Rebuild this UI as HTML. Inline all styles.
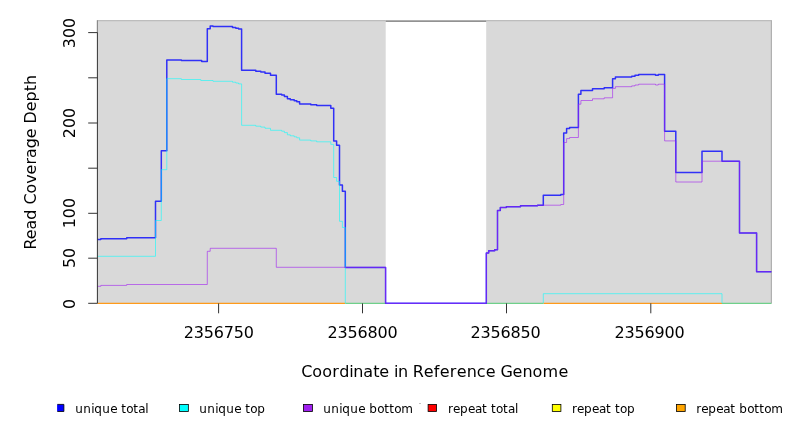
<!DOCTYPE html>
<html><head><meta charset="utf-8"><title>Read Coverage Depth</title>
<style>html,body{margin:0;padding:0;background:#fff;overflow:hidden}svg{display:block}text{font-family:"DejaVu Sans","Liberation Sans",sans-serif;fill:#000}</style>
</head><body>
<svg width="792" height="432" viewBox="0 0 792 432">
<rect x="0" y="0" width="792" height="432" fill="#ffffff"/>
<g id="panel">
<rect x="97.2" y="20.3" width="288.5" height="283" fill="#d9d9d9"/>
<rect x="486.2" y="20.3" width="285.2" height="283" fill="#d9d9d9"/>
<path d="M97.2 20.6 H385.7 M486.2 20.6 H771.6" stroke="#bdbdbd" stroke-width="1.2" fill="none"/>
<path d="M385.7 20.5 H486.2" stroke="#c6c6c6" stroke-width="1" fill="none"/>
<path d="M385.7 21.2 H486.2" stroke="#6e6e6e" stroke-width="1.1" fill="none"/>
<path d="M771.4 20.3 V303.6" stroke="#b0b0b0" stroke-width="1.2" fill="none"/>
<path d="M97.4 20.3 V33" stroke="#8a8a8a" stroke-width="1.2" fill="none"/>
</g>
<g id="baseline" fill="none" stroke-width="1.2">
<path d="M97.5 303.3 H345.3 M543.3 303.3 H722" stroke="#ff9a1a"/>
<path d="M345.3 303.3 H385.6 M486.3 303.3 H543.3 M722 303.3 H771.4" stroke="#6fd08a"/>
</g>
<g id="lines" fill="none" stroke-linejoin="miter">
<path d="M97.50 239.50 H100.80 V238.70 H126.70 V237.80 H155.50 V201.30 H161.30 V150.80 H166.80 V59.90 H181.40 V60.60 H201.70 V61.40 H207.30 V28.70 H210.20 V26.00 H213.00 V26.60 H232.50 V27.40 H235.80 V28.20 H238.60 V29.10 H241.60 V70.30 H255.80 V71.20 H260.80 V72.10 H265.00 V73.30 H270.50 V75.20 H276.30 V94.20 H281.70 V95.10 H284.40 V96.40 H287.40 V98.70 H290.30 V99.70 H294.20 V100.70 H296.80 V101.70 H299.60 V104.00 H310.80 V104.80 H316.70 V105.60 H330.80 V108.30 H333.70 V141.00 H336.60 V145.20 H339.50 V185.00 H342.40 V191.30 H345.30 V267.40 H385.60 V303.30 H486.30 V253.00 H488.70 V250.80 H494.70 V249.70 H497.50 V210.50 H500.30 V207.50 H506.30 V206.70 H520.50 V205.80 H537.50 V205.20 H543.30 V195.30 H560.80 V194.60 H563.70 V133.00 H566.60 V128.50 H569.60 V127.50 H578.40 V94.20 H580.90 V90.50 H592.50 V88.80 H604.20 V87.80 H612.60 V78.70 H615.40 V77.00 H631.70 V76.20 H635.00 V75.30 H638.70 V74.50 H655.50 V75.30 H658.30 V74.50 H664.60 V131.20 H675.80 V172.50 H702.00 V151.20 H722.00 V161.20 H739.50 V232.90 H756.60 V271.70 H771.40" stroke="#0000ff" stroke-opacity="0.78" stroke-width="1.5" stroke-linejoin="round"/>
<path d="M97.50 256.30 H155.50 V220.50 H161.30 V169.70 H166.80 V78.70 H181.40 V79.50 H200.80 V80.50 H213.00 V81.30 H232.50 V82.20 H235.80 V83.00 H238.60 V83.90 H241.60 V125.30 H255.80 V126.20 H260.80 V127.10 H265.00 V128.30 H270.50 V130.30 H281.70 V131.20 H284.40 V132.60 H287.40 V134.80 H290.30 V135.80 H294.20 V136.80 H296.80 V137.80 H299.60 V140.10 H310.80 V140.90 H316.70 V141.80 H330.80 V144.40 H333.70 V177.50 H336.60 V181.30 H339.50 V221.30 H342.40 V227.50 H345.30 V303.30 M543.30 303.30 H543.30 V293.70 H722.00 V303.30" stroke="#00ffff" stroke-opacity="0.56" stroke-width="1"/>
<path d="M97.50 286.30 H100.80 V285.40 H126.70 V284.50 H207.30 V251.30 H210.20 V248.30 H276.30 V267.30 H385.60 V303.30 H486.30 V253.00 H488.70 V250.80 H494.70 V249.70 H497.50 V210.50 H500.30 V207.50 H506.30 V206.70 H520.50 V205.80 H537.50 V205.20 H560.80 V204.50 H563.70 V142.50 H566.60 V138.60 H569.60 V137.50 H578.40 V104.20 H580.90 V100.50 H592.50 V98.80 H604.20 V97.80 H612.60 V88.40 H615.40 V86.70 H631.70 V85.90 H635.00 V85.00 H638.70 V84.20 H655.50 V85.00 H658.30 V84.20 H664.60 V140.90 H675.80 V182.00 H702.00 V161.20 H739.50 V232.90 H756.60 V271.70 H771.40" stroke="#a020f0" stroke-opacity="0.6" stroke-width="1"/>
</g>
<g id="axes" fill="none" stroke="#333333" stroke-width="1">
<path d="M97.4 32.6 V303.4"/>
<path d="M88.2 32.6 H97.4"/>
<path d="M88.2 77.8 H97.4"/>
<path d="M88.2 123.0 H97.4"/>
<path d="M88.2 168.2 H97.4"/>
<path d="M88.2 213.3 H97.4"/>
<path d="M88.2 258.2 H97.4"/>
<path d="M88.2 303.3 H97.4"/>
<path d="M218.6 303.4 V313.3"/>
<path d="M362.5 303.4 V313.3"/>
<path d="M506.5 303.4 V313.3"/>
<path d="M650.8 303.4 V313.3"/>
</g>
<g id="ticklabels">
<text x="183.80 193.80 203.80 213.80 223.80 233.80 243.80" y="337.60" font-size="16">2356750</text>
<text x="327.50 337.50 347.50 357.50 367.50 377.50 387.50" y="337.60" font-size="16">2356800</text>
<text x="470.50 480.50 490.50 500.50 510.50 520.50 530.50" y="337.60" font-size="16">2356850</text>
<text x="614.50 624.50 634.50 644.50 654.50 664.50 674.50" y="337.60" font-size="16">2356900</text>
<text transform="translate(75.20 33.05) rotate(-90)" text-anchor="middle" font-size="15.9">300</text>
<text transform="translate(75.20 123.05) rotate(-90)" text-anchor="middle" font-size="15.9">200</text>
<text transform="translate(75.20 213.10) rotate(-90)" text-anchor="middle" font-size="15.9">100</text>
<text transform="translate(75.20 257.90) rotate(-90)" text-anchor="middle" font-size="15.9">50</text>
<text transform="translate(75.20 303.90) rotate(-90)" text-anchor="middle" font-size="15.9">0</text>
</g>
<g id="titles">
<text x="301.35 312.35 322.35 332.35 339.35 349.35 353.35 363.35 373.35 379.35 389.35 394.05 398.05 408.05 412.75 423.75 433.75 439.75 449.75 456.75 466.75 476.75 485.75 495.75 500.45 512.45 522.45 532.45 542.45 558.45" y="377.00" font-size="16">Coordinate in Reference Genome</text>
<text transform="translate(35.90 162.30) rotate(-90)" text-anchor="middle" font-size="15.9">Read Coverage Depth</text>
</g>
<g id="legend">
<rect x="57.10" y="404.4" width="6.80" height="7.1" fill="#0000ff"/>
<path d="M57.40 404.4 H63.90 V411.5 H57.40" fill="none" stroke="#000" stroke-width="0.8"/>
<text x="75.25 83.25 91.25 94.25 102.25 110.25 117.25 121.25 126.25 133.25 138.25 145.25" y="412.70" font-size="12">unique total</text>
<rect x="179.40" y="404.4" width="8.95" height="7.1" fill="#00ffff" stroke="#000" stroke-width="0.8"/>
<text x="199.30 207.30 215.30 218.30 226.30 234.30 241.30 245.30 250.30 257.30" y="412.70" font-size="12">unique top</text>
<rect x="303.50" y="404.4" width="8.90" height="7.1" fill="#a020f0" stroke="#000" stroke-width="0.8"/>
<text x="323.30 331.30 339.30 342.30 350.30 358.30 365.30 369.30 377.30 384.30 389.30 394.30 401.30" y="412.70" font-size="12">unique bottom</text>
<rect x="428.10" y="404.4" width="8.40" height="7.1" fill="#ff0000" stroke="#000" stroke-width="0.8"/>
<text x="448.10 453.10 460.10 468.10 475.10 482.10 487.10 491.10 496.10 503.10 508.10 515.10" y="412.70" font-size="12">repeat total</text>
<rect x="552.30" y="404.4" width="8.60" height="7.1" fill="#ffff00" stroke="#000" stroke-width="0.8"/>
<text x="572.00 577.00 584.00 592.00 599.00 606.00 611.00 615.00 620.00 627.00" y="412.70" font-size="12">repeat top</text>
<rect x="676.50" y="404.4" width="8.70" height="7.1" fill="#ffa500" stroke="#000" stroke-width="0.8"/>
<text x="696.30 701.30 708.30 716.30 723.30 730.30 735.30 739.30 747.30 754.30 759.30 764.30 771.30" y="412.70" font-size="12">repeat bottom</text>
</g>
<rect x="419" y="403.1" width="2" height="0.8" fill="#b4b4b4"/>
</svg>
</body></html>
